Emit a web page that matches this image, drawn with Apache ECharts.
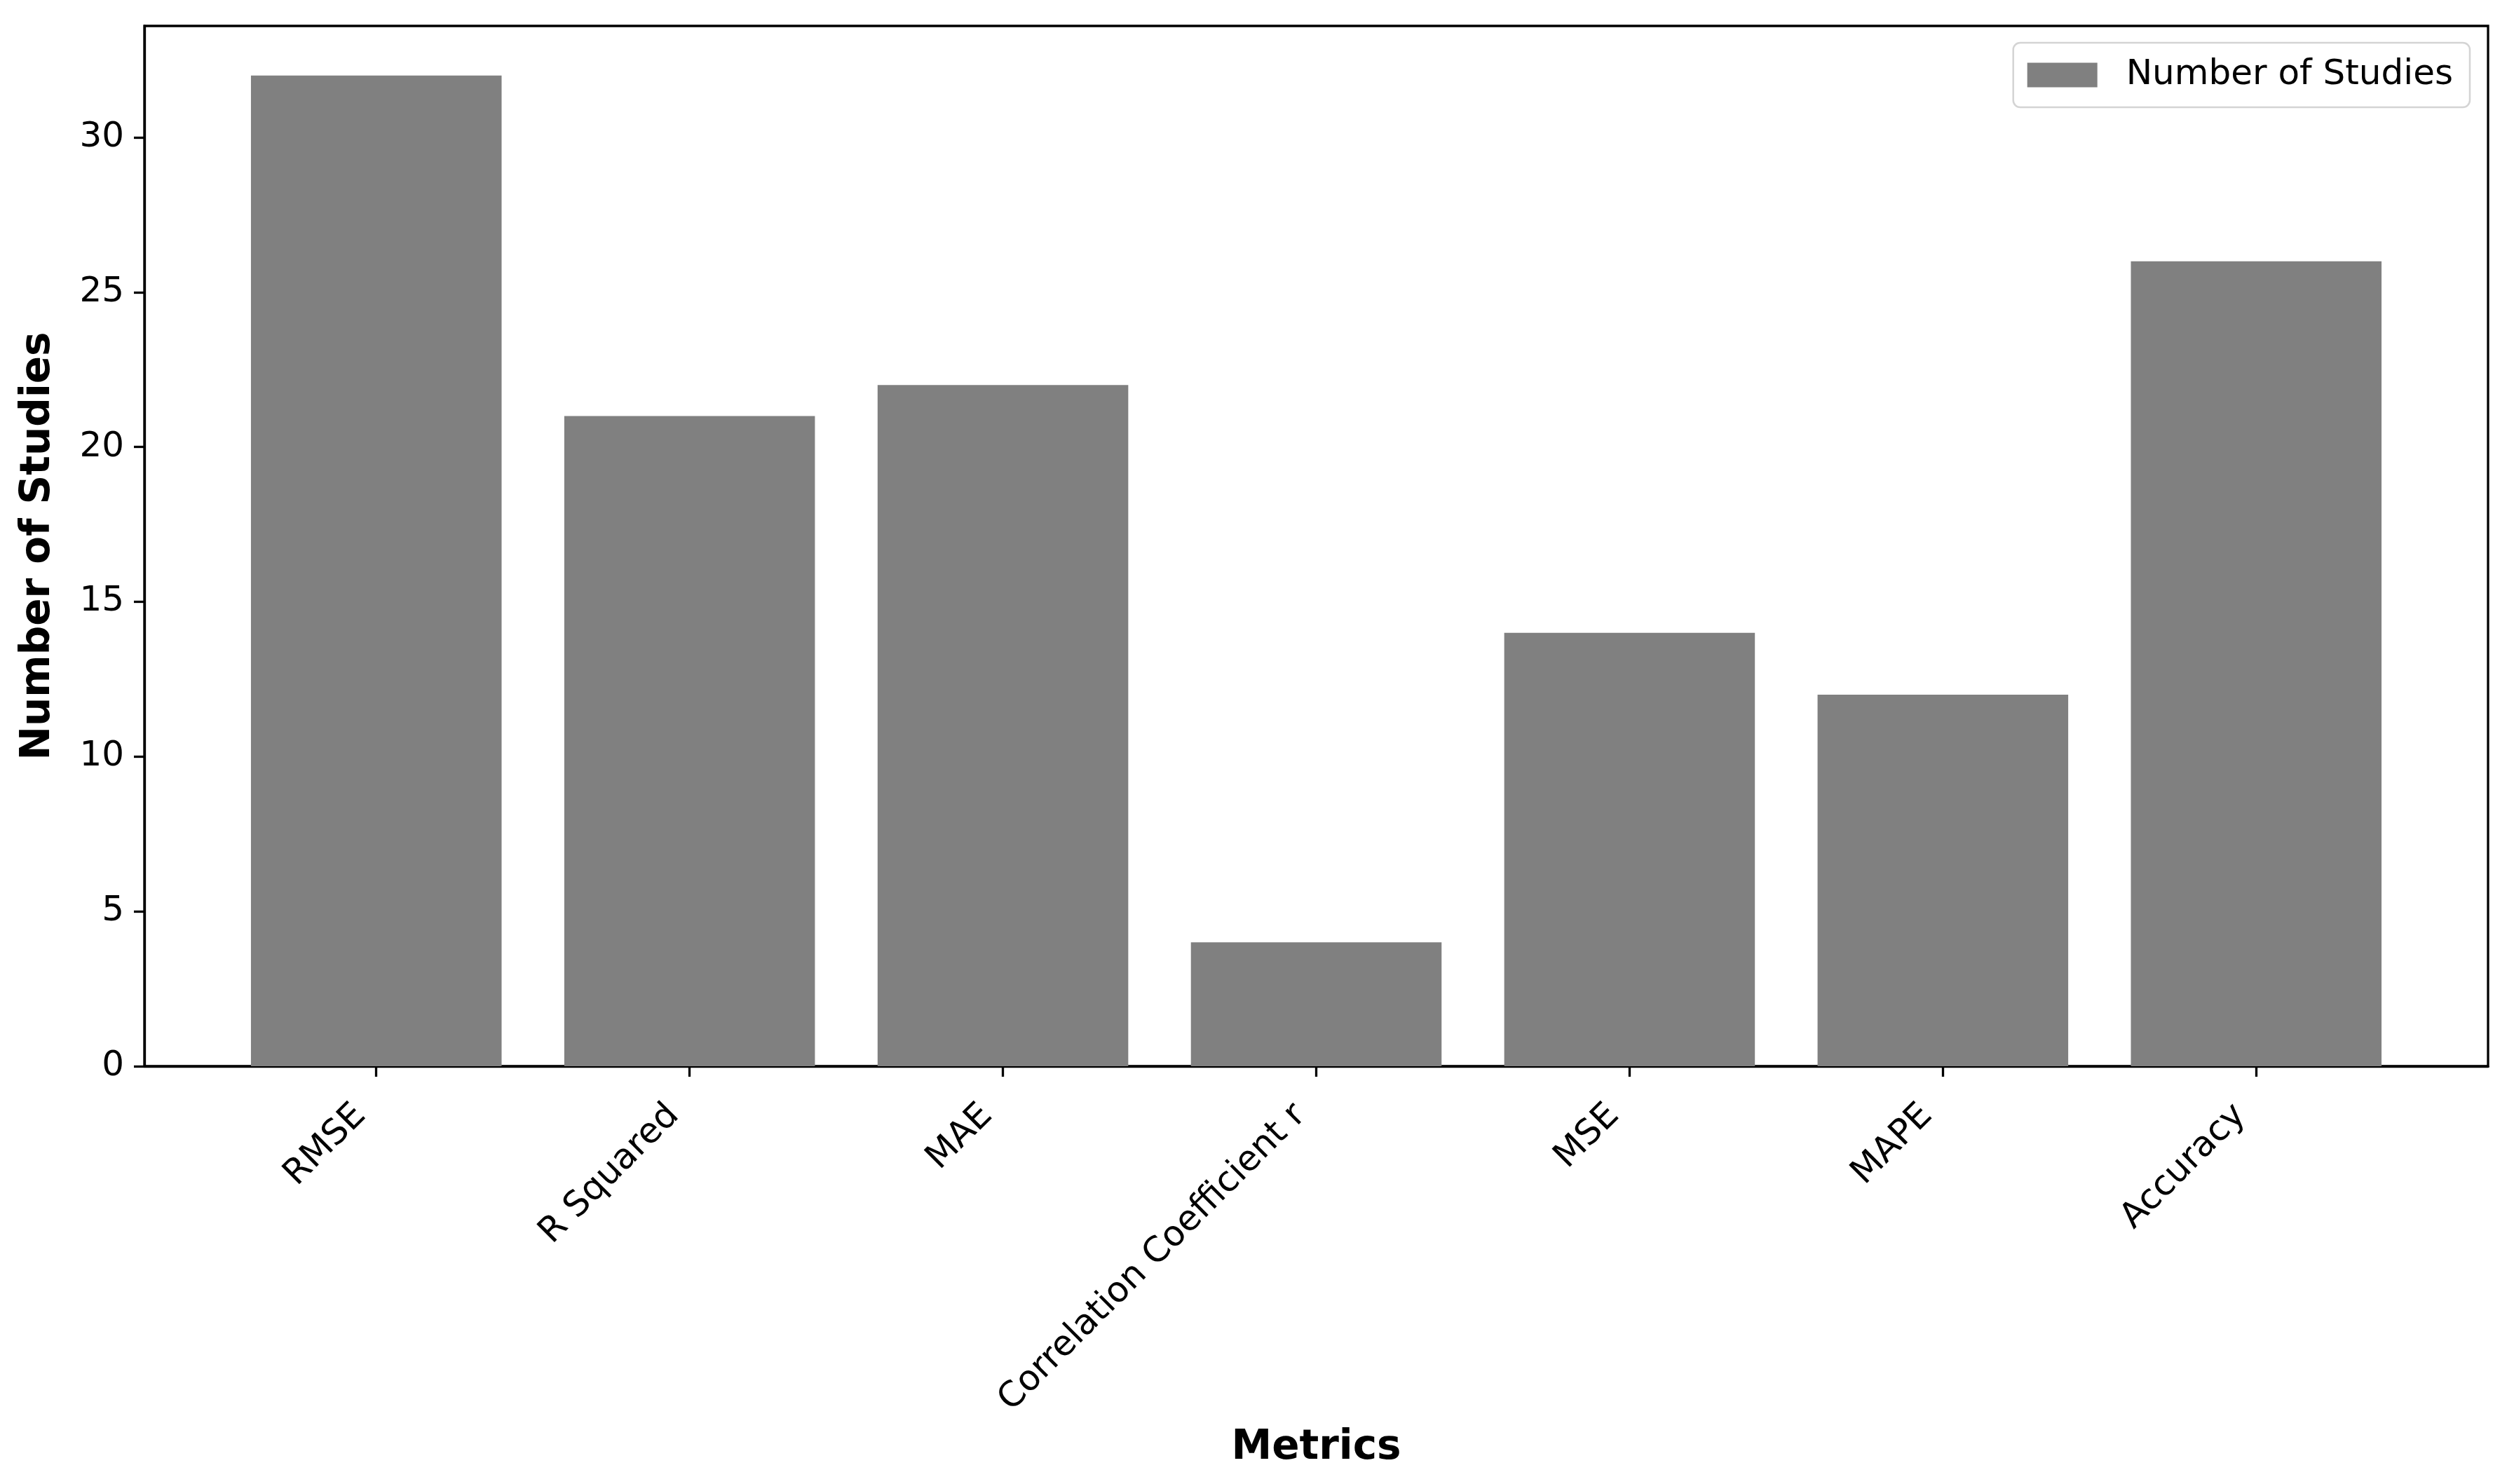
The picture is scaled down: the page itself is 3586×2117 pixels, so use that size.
<!DOCTYPE html>
<html>
<head>
<meta charset="utf-8">
<script src="https://cdn.jsdelivr.net/npm/echarts@6/dist/echarts.min.js"></script>
<style>
html,body{margin:0;padding:0;background:#fff;}
#chart{width:3586px;height:2117px;}
</style>
</head>
<body>
<div id="chart"></div>
<script>
const categories = ["RMSE", "R Squared", "MAE", "Correlation Coefficient r", "MSE", "MAPE", "Accuracy"];
const studies = [32, 21, 22, 4, 14, 12, 26];
const yTicks = [0, 5, 10, 15, 20, 25, 30];
const seriesName = "Number of Studies";

const xPositions = categories.map((c, i) => i);
const barData = studies.map((v, i) => [xPositions[i], v]);
const FONT = "DejaVu Sans";

const chart = echarts.init(document.getElementById('chart'), null, {renderer: 'canvas'});
chart.setOption({
  backgroundColor: '#ffffff',
  animation: false,
  grid: {
    left: 206, right: 37, top: 37, bottom: 596,
    show: true, borderColor: '#000', borderWidth: 3.3, backgroundColor: 'transparent'
  },
  legend: {
    right: 63, top: 61,
    data: [seriesName],
    icon: 'rect',
    itemWidth: 100, itemHeight: 35,
    padding: [21, 24, 21, 20],
    borderColor: '#d4d4d4', borderWidth: 2.5, borderRadius: 10,
    backgroundColor: '#fff',
    textStyle: {fontFamily: FONT, fontSize: 50, color: '#000', padding: [0, 0, 0, 36]}
  },
  xAxis: {
    type: 'value',
    min: -0.74, max: 6.74,
    name: 'Metrics',
    nameLocation: 'middle',
    nameGap: 516,
    nameTextStyle: {fontFamily: FONT, fontSize: 58, fontWeight: 'bold', color: '#000'},
    axisLine: {show: true, onZero: false, lineStyle: {color: '#000', width: 3.3}},
    axisTick: {show: true, length: 15, lineStyle: {color: '#000', width: 3.3}, customValues: xPositions},
    axisLabel: {
      customValues: xPositions,
      rotate: 45, margin: 40,
      padding: [0, 32, 0, 0],
      fontFamily: FONT, fontSize: 50, color: '#000',
      formatter: v => categories[Math.round(v)]
    },
    splitLine: {show: false}
  },
  yAxis: {
    type: 'value',
    min: 0, max: 33.6,
    name: 'Number of Studies',
    nameLocation: 'middle',
    nameGap: 122,
    nameTextStyle: {fontFamily: FONT, fontSize: 58, fontWeight: 'bold', color: '#000'},
    axisLine: {show: true, onZero: false, lineStyle: {color: '#000', width: 3.3}},
    axisTick: {show: true, length: 15, lineStyle: {color: '#000', width: 3.3}, customValues: yTicks},
    axisLabel: {customValues: yTicks, margin: 29, fontFamily: FONT, fontSize: 50, color: '#000'},
    splitLine: {show: false}
  },
  series: [{
    name: seriesName,
    type: 'bar',
    data: barData,
    barWidth: '80%',
    itemStyle: {color: '#808080'}
  }]
});
</script>
</body>
</html>
